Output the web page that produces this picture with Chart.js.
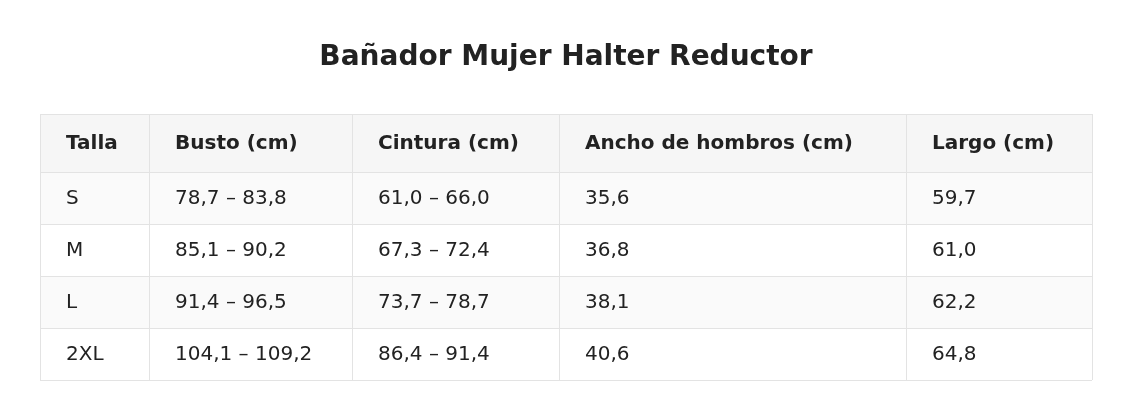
<!DOCTYPE html>
<html><head><meta charset="utf-8">
<script src="https://cdn.jsdelivr.net/npm/chart.js@4/dist/chart.umd.min.js"></script>
<style>html,body{margin:0;padding:0;background:#fff}#c{display:block}</style>
</head><body>
<div style="width:1132px;height:420px"><canvas id="c"></canvas></div>
<script>
const title = "Bañador Mujer Halter Reductor";
const headers = ["Talla","Busto (cm)","Cintura (cm)","Ancho de hombros (cm)","Largo (cm)"];
const sizes = ["S","M","L","2XL"];
const busto = ["78,7 – 83,8","85,1 – 90,2","91,4 – 96,5","104,1 – 109,2"];
const cintura = ["61,0 – 66,0","67,3 – 72,4","73,7 – 78,7","86,4 – 91,4"];
const hombros = ["35,6","36,8","38,1","40,6"];
const largo = ["59,7","61,0","62,2","64,8"];

const layoutCfg = {
  colEdges:[40,149,352,559,906,1092],
  rowEdges:[114,172,224,276,328,380],
  titleY:58
};

const tablePlugin = {
  id:'table',
  afterDraw(chart){
    const ctx = chart.ctx, xs = chart.scales.x, ys = chart.scales.y;
    const X = v=>xs.getPixelForValue(v), Y = v=>ys.getPixelForValue(v);
    const C = layoutCfg.colEdges, R = layoutCfg.rowEdges;
    ctx.save();
    ctx.fillStyle = '#222';
    ctx.font = 'bold 28px "DejaVu Sans"';
    ctx.textAlign='center'; ctx.textBaseline='middle';
    ctx.fillText(title, X(566), Y(layoutCfg.titleY));
    const rows = [headers].concat(sizes.map((s,i)=>[s,busto[i],cintura[i],hombros[i],largo[i]]));
    rows.forEach((row,r)=>{
      const bg = r===0 ? '#f6f6f6' : (r%2===1 ? '#fafafa' : '#ffffff');
      ctx.fillStyle = bg;
      ctx.fillRect(X(C[0]),Y(R[r]),X(C[C.length-1])-X(C[0]),Y(R[r+1])-Y(R[r]));
    });
    ctx.strokeStyle='#e3e3e3'; ctx.lineWidth=1;
    R.forEach(y=>{ctx.beginPath();ctx.moveTo(X(C[0]),Math.round(Y(y))+0.5);ctx.lineTo(X(C[C.length-1]),Math.round(Y(y))+0.5);ctx.stroke();});
    C.forEach(x=>{ctx.beginPath();ctx.moveTo(Math.round(X(x))+0.5,Y(R[0]));ctx.lineTo(Math.round(X(x))+0.5,Y(R[R.length-1]));ctx.stroke();});
    ctx.textAlign='left';
    rows.forEach((row,r)=>{
      ctx.font = (r===0?'bold ':'')+'20px "DejaVu Sans"';
      ctx.fillStyle = '#222';
      row.forEach((t,c)=>{
        ctx.fillText(t, X(C[c]+26), Y((R[r]+R[r+1])/2)+1);
      });
    });
    ctx.restore();
  }
};

new Chart(document.getElementById('c'),{
  type:'scatter',
  data:{datasets:[{data:[],showLine:false}]},
  options:{
    responsive:true, maintainAspectRatio:false, animation:false,
    layout:{padding:0},
    plugins:{legend:{display:false},tooltip:{enabled:false}},
    scales:{
      x:{type:'linear',min:0,max:1132,display:false},
      y:{type:'linear',min:0,max:420,reverse:true,display:false}
    }
  },
  plugins:[tablePlugin]
});
</script>
</body></html>
